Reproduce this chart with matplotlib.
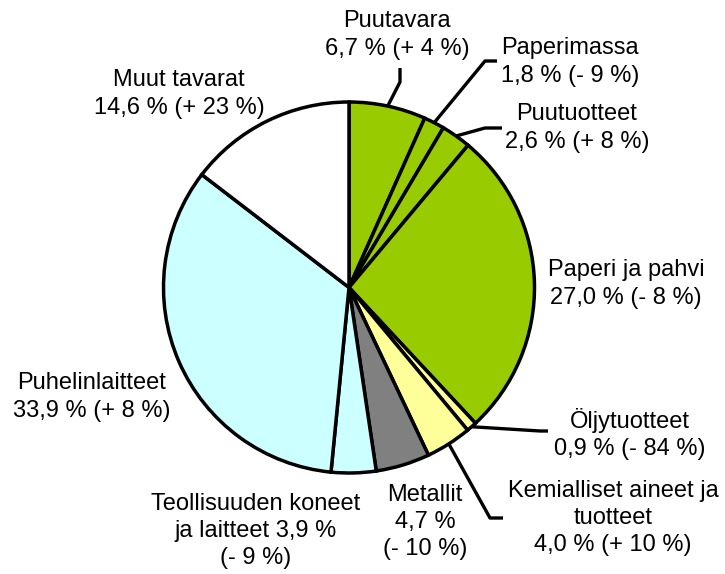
import numpy as np
import matplotlib
matplotlib.use("Agg")
import matplotlib.pyplot as plt

plt.rcParams['font.family'] = ['Liberation Sans', 'DejaVu Sans']

# osuudet (%), myötäpäivään ylhäältä alkaen
labels = ["Puutavara", "Paperimassa", "Puutuotteet", "Paperi ja pahvi",
          "Öljytuotteet", "Kemialliset aineet ja\ntuotteet", "Metallit",
          "Teollisuuden koneet\nja laitteet", "Puhelinlaitteet", "Muut tavarat"]
shares = [6.7, 1.8, 2.6, 27.0, 0.9, 4.0, 4.7, 3.9, 33.9, 14.6]
changes = ["+ 4", "- 9", "+ 8", "- 8", "- 84", "+ 10", "- 10", "- 9", "+ 8", "+ 23"]
colors = ["#99cc00", "#99cc00", "#99cc00", "#99cc00", "#ffff99",
          "#ffff99", "#808080", "#ccffff", "#ccffff", "#ffffff"]

W, H = 725, 574
cx, cy, r = 349, 287.5, 185.5

fig = plt.figure(figsize=(W / 100, H / 100), dpi=100)
ax = fig.add_axes([0, 0, 1, 1])

wedges, _ = ax.pie(shares, colors=colors, startangle=90, counterclock=False,
                   center=(cx, H - cy), radius=r,
                   wedgeprops=dict(edgecolor="black", linewidth=2.5))
ax.set_xlim(0, W)
ax.set_ylim(0, H)
ax.set_aspect("equal")
ax.axis("off")


def fmt(v):
    return ("%.1f" % v).replace(".", ",")


texts = []
for i, lab in enumerate(labels):
    if i == 6:
        t = "%s\n%s %%\n(%s %%)" % (lab, fmt(shares[i]), changes[i])
    elif i == 7:
        t = "%s %s %%\n(%s %%)" % (lab, fmt(shares[i]), changes[i])
    else:
        t = "%s\n%s %% (%s %%)" % (lab, fmt(shares[i]), changes[i])
    texts.append(t)

# tekstien paikat (pikseleinä, y alaspäin)
text_pos = [(397, 35), (570, 62), (577, 128), (626, 284), (630, 434),
            (613, 518), (425, 522), (256, 531), (92, 397), (179, 94)]

for t, (px, py) in zip(texts, text_pos):
    ax.text(px, H - py, t, ha="center", va="center", multialignment="center",
            fontsize=17, linespacing=1.3)

# viivat: kiila -> taitekohdat
leaders = {0: [(400, 82), (400, 68)],
           1: [(485, 61), (497, 61)],
           2: [(485, 128), (502, 128)],
           4: [(540, 431), (548, 431)],
           5: [(490, 518), (503, 518)]}
for i, pts in leaders.items():
    w = wedges[i]
    ang = np.deg2rad((w.theta1 + w.theta2) / 2)
    xs = [cx + r * np.cos(ang)] + [p[0] for p in pts]
    ys = [H - cy + r * np.sin(ang)] + [H - p[1] for p in pts]
    ax.plot(xs, ys, color="black", linewidth=2.4, solid_capstyle="butt")

plt.savefig("out.png", dpi=100)
